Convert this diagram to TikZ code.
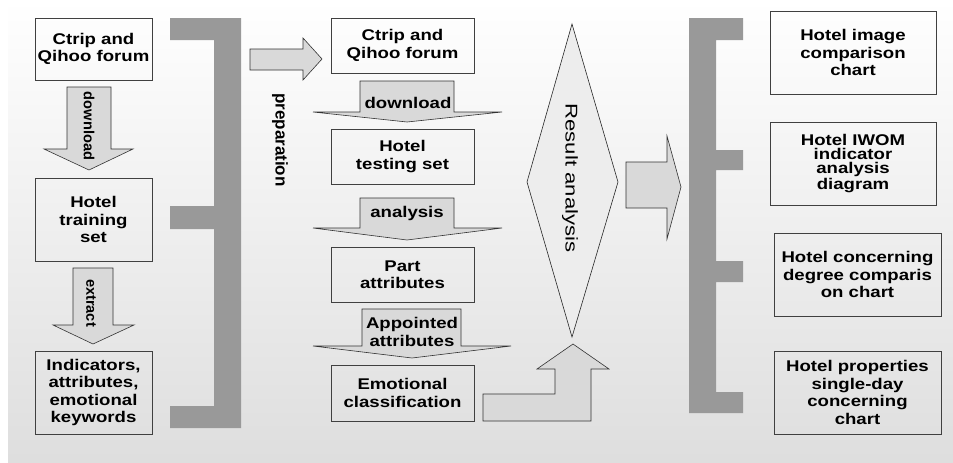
\documentclass[tikz,border=0pt]{standalone}
\usepackage{fontspec}
\setmainfont{Liberation Sans}
\newfontfamily\boxfont{Liberation Sans}[FakeStretch=1.2]
\newfontfamily\resultfont{Liberation Sans}[FakeStretch=1.3]

\begin{document}
\begin{tikzpicture}[x=1pt,y=-1pt,
  box/.style={draw=black!75,line width=0.8pt,align=center,inner sep=0pt,
    font=\boxfont\bfseries\fontsize{15.5}{17.5}\selectfont},
  tightbox/.style={box,font=\boxfont\bfseries\fontsize{15.5}{14}\selectfont},
  blockarrow/.style={draw=black!80,line width=0.6pt,fill=black!15},
  arrowlabel/.style={align=center,inner sep=0pt,
    font=\boxfont\bfseries\fontsize{15.5}{18}\selectfont},
  sidelabel/.style={rotate=-90,inner sep=0pt,font=\bfseries\fontsize{14.6}{16}\selectfont},
  bracket/.style={fill=black!40}]

  % background
  \shade[top color=white,bottom color=black!13] (8,0) rectangle (953,463);
  \useasboundingbox (0,0) rectangle (953,463);

  % training side
  \node[box,minimum width=117pt,minimum height=62pt] (lsrc) at (93.5,49) {Ctrip and\\Qihoo forum};
  \node[box,minimum width=117pt,minimum height=83pt] (ltrain) at (93.5,219.5) {Hotel\\training\\set};
  \node[box,minimum width=117pt,minimum height=83pt] (lkeys) at (93.5,392.5) {Indicators,\\attributes,\\emotional\\keywords};

  \draw[blockarrow] (67,87) -- (111,87) -- (111,149) -- (133,149) -- (89,170) -- (44,149) -- (67,149) -- cycle;
  \node[sidelabel] (ldown) at (89,126) {download};
  \draw[blockarrow] (73,268) -- (113,268) -- (113,325) -- (134,325) -- (93,344) -- (53,325) -- (73,325) -- cycle;
  \node[sidelabel] (lextract) at (91,303) {extract};

  \fill[bracket] (170,18) -- (241,18) -- (241,428) -- (170,428) -- (170,406) -- (214,406) -- (214,229)
    -- (170,229) -- (170,206) -- (214,206) -- (214,40) -- (170,40) -- cycle;

  \draw[blockarrow] (250,49) -- (303,49) -- (303,38) -- (322,59) -- (303,80) -- (303,70) -- (250,70) -- cycle;
  \node[sidelabel,font=\bfseries\fontsize{17}{18}\selectfont] (prep) at (280,140) {preparation};

  % testing side
  \node[box,minimum width=143pt,minimum height=55pt] (msrc) at (402.5,45.5) {Ctrip and\\Qihoo forum};
  \node[box,minimum width=143pt,minimum height=55pt] (mtest) at (402.5,156.5) {Hotel\\testing set};
  \node[box,minimum width=143pt,minimum height=55pt] (mpart) at (402.5,274.5) {Part\\attributes};
  \node[box,minimum width=143pt,minimum height=56pt] (memo) at (402.5,393) {Emotional\\classification};

  \draw[blockarrow] (360,81) -- (454,81) -- (454,112) -- (502,112) -- (407,122) -- (313,112) -- (360,112) -- cycle;
  \node[arrowlabel] (mdown) at (408,103) {download};
  \draw[blockarrow] (360,198) -- (454,198) -- (454,228) -- (502,228) -- (407,240) -- (313,228) -- (360,228) -- cycle;
  \node[arrowlabel] (manalysis) at (407,213) {analysis};
  \draw[blockarrow] (362,309) -- (461,309) -- (461,346) -- (511,346) -- (412,358) -- (313,346) -- (362,346) -- cycle;
  \node[arrowlabel] (mappoint) at (412,332) {Appointed\\attributes};

  \draw[blockarrow] (483,394) -- (555,394) -- (555,369) -- (537,369) -- (573,344) -- (609,369)
    -- (591,369) -- (591,421) -- (483,421) -- cycle;

  % result
  \draw[draw=black!85,line width=0.6pt,fill=black!7] (572,24) -- (618,182) -- (572,337) -- (527,182) -- cycle;
  \node[rotate=-90,inner sep=0pt,font=\resultfont\fontsize{17}{18}\selectfont] (result) at (570,178) {Result analysis};

  \draw[blockarrow] (626,162) -- (667,162) -- (667,136) -- (681,187) -- (667,239) -- (667,208) -- (626,208) -- cycle;

  \fill[bracket] (689,18) -- (743,18) -- (743,40) -- (716,40) -- (716,150) -- (743,150) -- (743,170)
    -- (716,170) -- (716,261) -- (743,261) -- (743,282) -- (716,282) -- (716,392) -- (743,392)
    -- (743,413) -- (689,413) -- cycle;

  \node[box,minimum width=166pt,minimum height=83pt] (rimage) at (853,52.5) {Hotel image\\comparison\\chart};
  \node[tightbox,minimum width=166pt,minimum height=83pt] (riwom) at (853,163.5) {Hotel IWOM\\indicator\\analysis\\diagram};
  \node[box,minimum width=167pt,minimum height=83pt] (rdegree) at (857.5,274.5) {Hotel concerning\\degree comparis\\on chart};
  \node[box,minimum width=167pt,minimum height=83pt] (rday) at (857.5,392.5) {Hotel properties\\single-day\\concerning\\chart};
\end{tikzpicture}
\end{document}
